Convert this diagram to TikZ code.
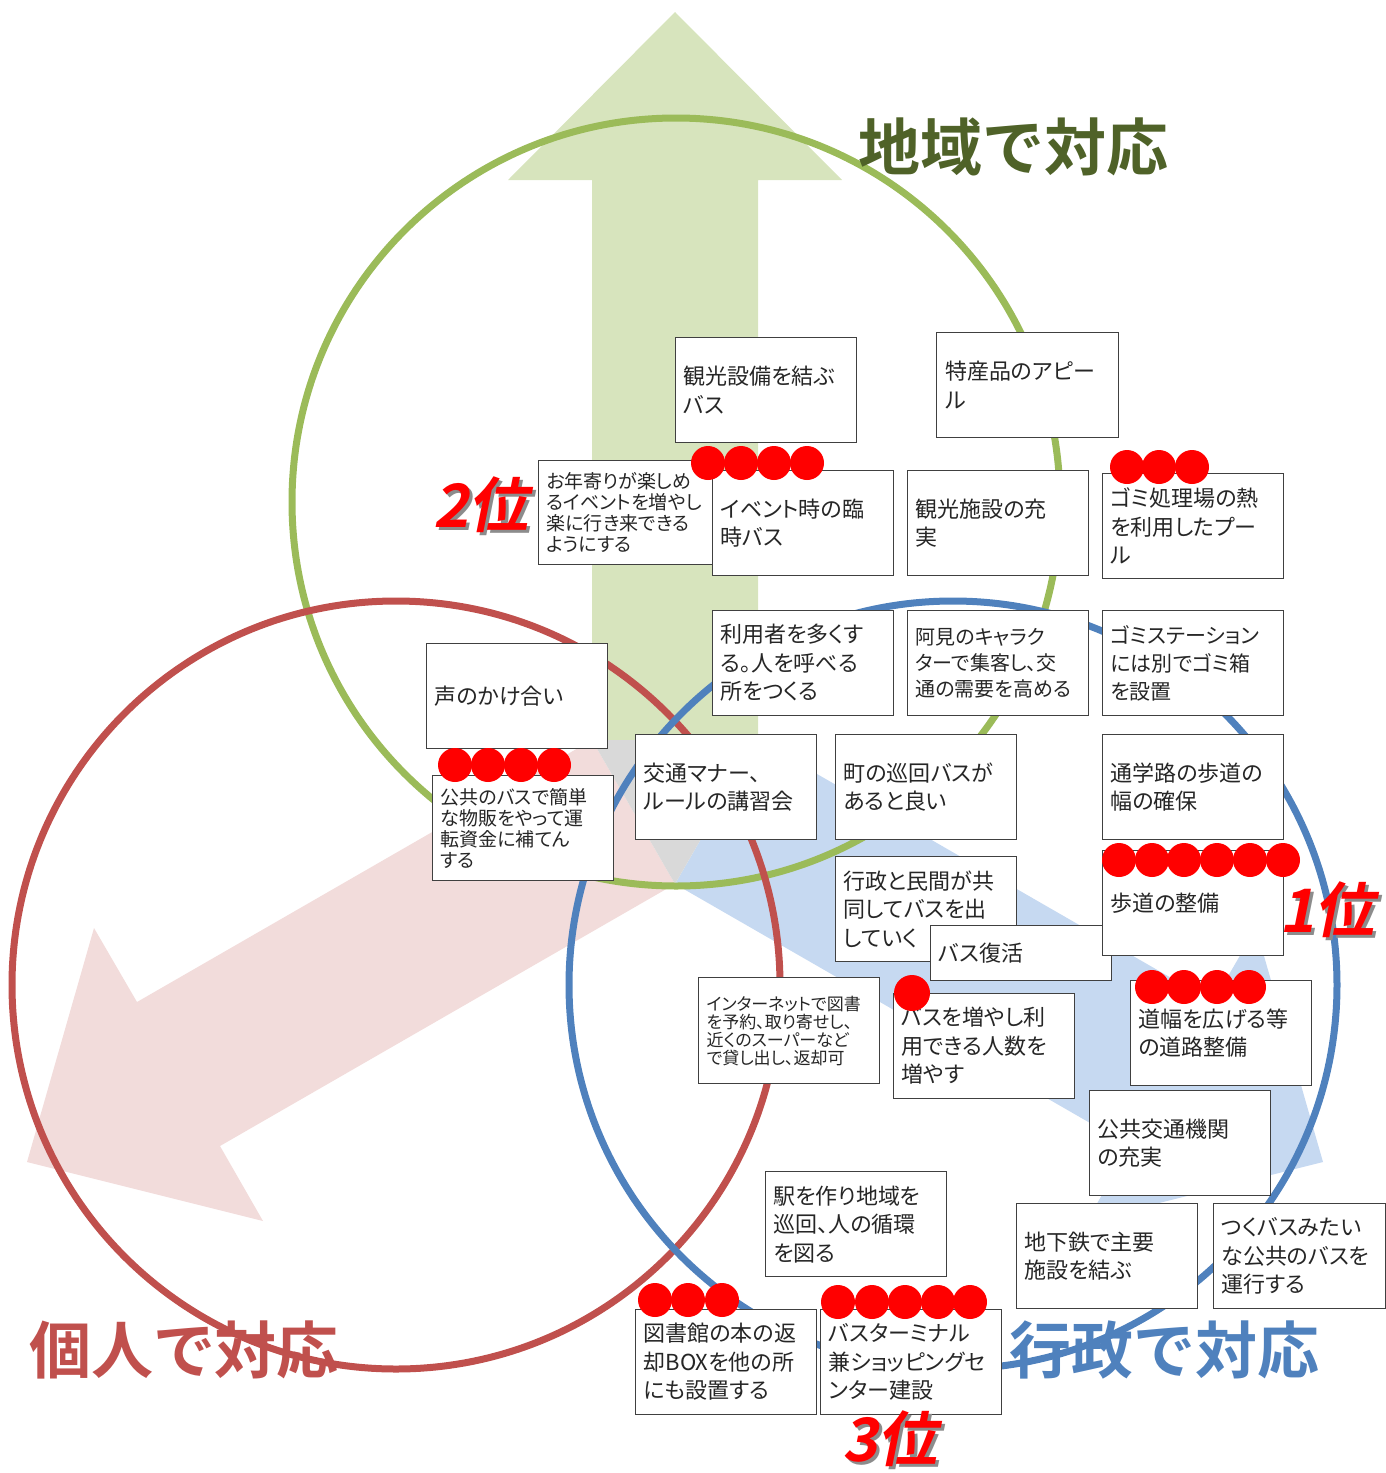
\documentclass[tikz,border=0pt]{standalone}
\usepackage{fontspec}
\newfontfamily\jp[RawFeature=+palt]{Noto Sans CJK JP}
\newfontfamily\jpbold{Noto Sans CJK JP Bold}
\newfontfamily\rankfont[FakeSlant=0.2]{Noto Sans CJK JP Bold}
\definecolor{midori}{HTML}{9BBB59}
\definecolor{midorib}{HTML}{4F6228}
\definecolor{aka}{HTML}{C0504D}
\definecolor{ao}{HTML}{4F81BD}
\definecolor{midorif}{HTML}{D7E4BD}
\definecolor{akaf}{HTML}{F2DCDB}
\definecolor{aof}{HTML}{C6D9F1}
\definecolor{haiiro}{HTML}{D9D9D9}
\tikzset{ %付箋
    idea/.style={draw=black!75, line width=1.2, fill=white, anchor=north west,
        minimum width=181, minimum height=105, text width=165, align=left,
        inner xsep=8, inner ysep=0, text=black!85,
        font=\jp\fontsize{22}{28.5}\selectfont},
    small/.style={font=\jp\fontsize{19}{21}\selectfont},
    vote/.style={circle, fill=red, minimum size=34, inner sep=0},
    taiou/.style={inner sep=0, font=\jpbold\fontsize{62}{62}\selectfont},
    rank/.style={inner sep=0, text=red, font=\rankfont\fontsize{60}{60}\selectfont},
    rankshadow/.style={rank, text=black!45},
}

\begin{document}
\begin{tikzpicture}[x=1pt, y=-1pt]
    \useasboundingbox (0,0) rectangle (1385,1473);
    % 矢印
    \fill[midorif] (592,740) -- (592,180) -- (508,180) -- (675,12) -- (842,180) -- (758,180) -- (758,740) -- cycle;
    \fill[akaf] (592,740) -- (137,1002) -- (94,928) -- (27,1162) -- (263,1221) -- (220,1146) -- (675,884) -- cycle;
    \fill[aof] (758,740) -- (1213,1002) -- (1256,928) -- (1323,1162) -- (1087,1221) -- (1130,1146) -- (675,884) -- cycle;
    \fill[haiiro] (592,740) -- (758,740) -- (675,884) -- cycle;
    % 円
    \draw[midori, line width=7] (676,502) circle[radius=384pt];
    \draw[aka, line width=7] (396,985) circle[radius=384pt];
    \draw[ao, line width=7] (953,985) circle[radius=384pt];

    \node[idea] (kankobus) at (675,337) {観光設備を結ぶ\\バス};
    \node[idea, minimum width=182] (tokusan) at (936,332) {特産品のアピー\\ル};
    \node[idea, small, minimum width=174, text width=158, minimum height=104] (otoshiyori) at (538,460) {お年寄りが楽しめ\\るイベントを増やし\\楽に行き来できる\\ようにする};
    \node[idea] (rinji) at (712,470) {イベント時の臨\\時バス};
    \node[idea] (juujitsu) at (907,470) {観光施設の充\\実};
    \node[idea] (pool) at (1102,473) {ゴミ処理場の熱\\を利用したプー\\ル};
    \node[idea] (riyousha) at (712,610) {利用者を多くす\\る。人を呼べる\\所をつくる};
    \node[idea, font=\jp\fontsize{20}{26}\selectfont] (chara) at (907,610) {阿見のキャラク\\ターで集客し、交\\通の需要を高める};
    \node[idea, font=\jp\fontsize{21}{28}\selectfont] (gomibako) at (1102,610) {ゴミステーション\\には別でゴミ箱\\を設置};
    \node[idea] (koe) at (426,643) {声のかけ合い};
    \node[idea, small] (buppan) at (432,775) {公共のバスで簡単\\な物販をやって運\\転資金に補てん\\する};
    \node[idea] (manner) at (635,734) {交通マナー、\\ルールの講習会};
    \node[idea] (junkai) at (835,734) {町の巡回バスが\\あると良い};
    \node[idea] (tsugaku) at (1102,734) {通学路の歩道の\\幅の確保};
    \node[idea] (kyoudou) at (835,856) {行政と民間が共\\同してバスを出\\していく};
    \node[idea, minimum height=55] (fukkatsu) at (930,925) {バス復活};
    \node[idea] (hodou) at (1102,850) {歩道の整備};
    \node[idea, font=\jp\fontsize{17}{18}\selectfont, minimum height=106] (tosho) at (698,977) {インターネットで図書\\を予約、取り寄せし、\\近くのスーパーなど\\で貸し出し、返却可};
    \node[idea] (zouka) at (893,993) {バスを増やし利\\用できる人数を\\増やす};
    \node[idea] (michihaba) at (1130,980) {道幅を広げる等\\の道路整備};
    \node[idea] (koukyou) at (1089,1090) {公共交通機関\\の充実};
    \node[idea] (eki) at (765,1171) {駅を作り地域を\\巡回、人の循環\\を図る};
    \node[idea] (chikatetsu) at (1016,1203) {地下鉄で主要\\施設を結ぶ};
    \node[idea, minimum width=172, text width=156] (tsukubus) at (1213,1203) {つくバスみたい\\な公共のバスを\\運行する};
    \node[idea] (henkyaku) at (635,1309) {図書館の本の返\\却BOXを他の所\\にも設置する};
    \node[idea] (terminal) at (820,1309) {バスターミナル\\兼ショッピングセ\\ンター建設};

    % 投票シール
    \foreach \x [count=\i] in {708,741,774,807} \node[vote] (rinji\i) at (\x,463) {};
    \foreach \x [count=\i] in {1127,1159,1192} \node[vote] (pool\i) at (\x,467) {};
    \foreach \x [count=\i] in {455,488,521,554} \node[vote] (buppan\i) at (\x,765) {};
    \foreach \x [count=\i] in {1119,1152,1184,1217,1250,1283} \node[vote] (hodou\i) at (\x,860) {};
    \foreach \x [count=\i] in {1152,1184,1217,1249} \node[vote] (michihaba\i) at (\x,987) {};
    \node[vote, minimum size=36] (zouka1) at (912,993) {};
    \foreach \x [count=\i] in {655,688,722} \node[vote] (henkyaku\i) at (\x,1300) {};
    \foreach \x [count=\i] in {838,872,905,938,970} \node[vote] (terminal\i) at (\x,1302) {};

    \node[taiou, text=midorib] (chiiki) at (1013,147) {地域で対応};
    \node[taiou, text=aka] (kojin) at (184,1350) {個人で対応};
    \node[taiou, text=ao] (gyousei) at (1164,1350) {行政で対応};

    \foreach \x/\y/\t in {481/505/2, 1327/910/1, 890/1439/3}{
        \node[rankshadow] at (\x+3,\y+3) {\t 位};
        \node[rank] (juni\t) at (\x,\y) {\t 位};
    }
\end{tikzpicture}
\end{document}
